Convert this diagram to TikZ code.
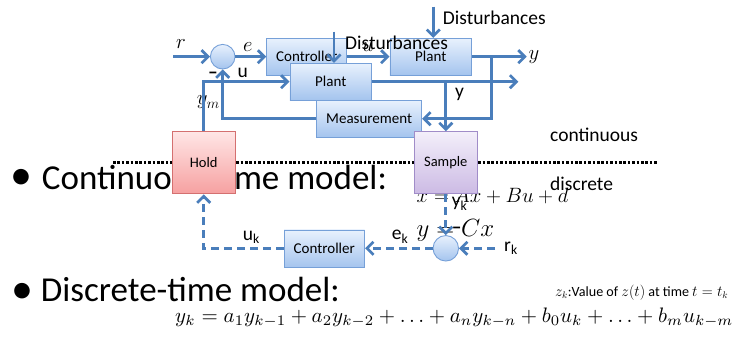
\documentclass[tikz,border=0pt]{standalone}
\usepackage{fontspec}
\setmainfont{Carlito}
\usetikzlibrary{arrows.meta}
\definecolor{ln}{RGB}{74,126,187}
\definecolor{btop}{RGB}{232,241,253}
\definecolor{bbot}{RGB}{164,196,238}
\definecolor{bbord}{RGB}{118,160,216}
\definecolor{htop}{RGB}{255,230,230}
\definecolor{hbot}{RGB}{246,160,160}
\definecolor{hbord}{RGB}{212,112,112}
\definecolor{smtop}{RGB}{243,239,250}
\definecolor{smbot}{RGB}{204,186,228}
\definecolor{smbord}{RGB}{160,140,200}
\begin{document}
\begin{tikzpicture}[x=1pt,y=-1pt,
  blk/.style={draw=bbord, line width=0.9pt, top color=btop, bottom color=bbot, inner sep=0pt, font=\fontsize{15}{15}\selectfont},
  holdbox/.style={draw=hbord, line width=0.9pt, top color=htop, bottom color=hbot, inner sep=0pt, font=\fontsize{14.5}{15}\selectfont, minimum width=62.7pt, minimum height=62.3pt},
  sampbox/.style={draw=smbord, line width=0.9pt, top color=smtop, bottom color=smbot, inner sep=0pt, font=\fontsize{14.5}{15}\selectfont, minimum width=63pt, minimum height=62.3pt},
  sumst/.style={circle, draw=bbord, line width=0.9pt, top color=btop, bottom color=bbot, inner sep=0pt},
  arr/.style={draw=ln, line width=2.7pt, -{Straight Barb[length=6.5pt,width=13pt]}},
  dar/.style={arr, dash pattern=on 8pt off 5pt},
  lab/.style={anchor=base west, inner sep=0pt, font=\fontsize{19.5}{20}\selectfont},
  mth/.style={anchor=base west, inner sep=0pt, font=\fontsize{21}{21}\selectfont},
  eqn/.style={anchor=base west, inner sep=0pt, font=\fontsize{22}{22}\selectfont},
  big/.style={anchor=base west, inner sep=0pt, font=\fontsize{35}{36}\selectfont},
  bul/.style={inner sep=0pt, font=\fontsize{44}{44}\selectfont},
  mns/.style={inner sep=0pt, font=\fontsize{19.5}{20}\selectfont\bfseries}
]
\useasboundingbox (0,0) rectangle (740,350);

% dotted separator
\coordinate (dl) at (113,162.7);
\coordinate (dr) at (657,162.7);
\draw[line width=3pt, dash pattern=on 2.6pt off 1.8pt] (dl) -- (dr);

% bullet texts and continuous equations
\node[bul] (b1) at (21,179.5) {•};
\node[big] (t1) at (41.7,190) {Continuous-time model:};
\node[eqn] (eqx) at (416.5,203) {$\dot{x} = Ax + Bu + d$};
\node[eqn, font=\fontsize{23}{23}\selectfont] (eqy) at (416.5,237) {$y = Cx$};

% top loop
\coordinate (rin) at (173,56.7);
\node[sumst, minimum size=24.6pt] (sum) at (222.7,56.7) {};
\node[blk, minimum width=80pt, minimum height=36.7pt] (ctrl) at (306.7,56.7) {Controller};
\node[blk, minimum width=81.7pt, minimum height=36.7pt] (plantA) at (430.8,56.7) {Plant};
\coordinate (yend) at (526.7,56.7);
\coordinate (br1) at (491.7,56.7);
\node[mth] (lr) at (176,48.3) {$r$};
\node[mth] (le) at (243,51.7) {$e$};
\node[mth] (lu) at (361.7,51.7) {$u$};
\node[mth] (ly) at (528.3,60) {$y$};
\draw[arr] (rin) -- (sum.west);
\draw[arr] (sum.east) -- (ctrl.west);
\draw[arr] (ctrl.east) -- (plantA.west);
\draw[arr] (plantA.east) -- (yend);

\node[blk, minimum width=81.7pt, minimum height=36.7pt] (plantB) at (330.8,81.7) {Plant};
\node[blk, minimum width=105pt, minimum height=37.3pt] (meas) at (369.2,118.7) {Measurement};
\coordinate (yend2) at (518.3,81.7);
\coordinate (br2) at (445.8,81.7);
\draw[arr] (plantB.east) -- (yend2);
\draw[arr] (br1) |- (meas.east);
\draw[arr] (meas.west) -| (sum.south);

% disturbances
\coordinate (d1) at (433.3,6.7);
\coordinate (d2) at (334,31.7);
\draw[arr] (d1) -- (d1 |- plantA.north);
\draw[arr] (d2) -- (d2 |- plantB.north);
\node[lab] (dt1) at (442.7,25) {Disturbances};
\node[lab] (dt2) at (345,49.3) {Disturbances};

% hold and sample
\node[holdbox] (hold) at (203.7,162.8) {Hold};
\node[sampbox] (sample) at (445.8,162.8) {Sample};
\node[mth] (lym) at (196.7,105) {$y_m$};
\draw[arr] (hold.north) |- (plantB.west);
\draw[arr] (br2) -- (sample.north);
\node[lab] (lu2) at (237.3,77.3) {u};
\node[lab] (ly2) at (455,97.5) {y};
\node[mns] (m1) at (213,75.5) {–};

% discrete loop
\node[sumst, minimum size=25.5pt] (sum2) at (445.8,248.3) {};
\node[blk, minimum width=80.6pt, minimum height=37.6pt] (dctrl) at (324.3,248.8) {Controller};
\coordinate (rk) at (495,248.3);
\draw[dar] (sample.south) -- (sum2.north);
\draw[dar] (rk) -- (sum2.east);
\draw[dar] (sum2.west) -- (sum2.west -| dctrl.east);
\draw[dar] (dctrl.west) -| (hold.south);
\node[mns] (m2) at (456.7,230) {–};
\node[lab] (lyk) at (451.7,207) {y\textsubscript{k}};
\node[lab] (lek) at (391.7,240) {e\textsubscript{k}};
\node[lab] (lrk) at (504,251.7) {r\textsubscript{k}};
\node[lab] (luk) at (242.7,240.7) {u\textsubscript{k}};

% region labels
\node[lab] (cont) at (550,141.7) {continuous};
\node[lab] (disc) at (550,190.5) {discrete};

% discrete-time model
\node[bul] (b2) at (22,293.5) {•};
\node[big] (t2) at (40.7,301.7) {Discrete-time model:};
\node[anchor=base west, inner sep=0pt] (zk) at (555,296.7) {\resizebox{173pt}{!}{\fontsize{16}{16}\selectfont$z_k$:Value of $z(t)$ at time $t = t_k$}};
\node[anchor=base west, inner sep=0pt] (eqk) at (175,322) {\resizebox{558pt}{!}{$y_k = a_1 y_{k-1} + a_2 y_{k-2} + \ldots + a_n y_{k-n} + b_0 u_k + \ldots + b_m u_{k-m}$}};
\end{tikzpicture}
\end{document}
